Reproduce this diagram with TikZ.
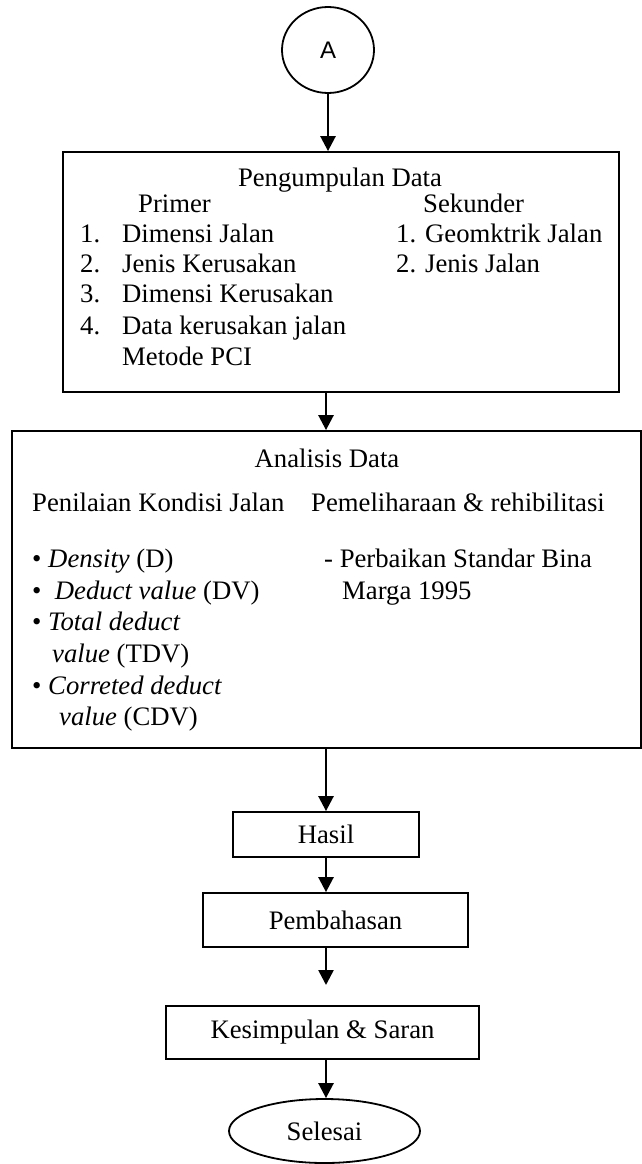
\documentclass[tikz,border=0pt]{standalone}
\usepackage{fontspec}
\setmainfont{Liberation Serif}
\newfontfamily\arialfont{Liberation Sans}
\usetikzlibrary{arrows.meta,shapes.geometric}

\begin{document}
\begin{tikzpicture}[x=1pt,y=-1pt,
	font=\fontsize{26.7}{31}\selectfont,
	box/.style={draw,line width=1.8pt,inner sep=0pt},
	oval/.style={draw,ellipse,line width=1.8pt,inner sep=0pt},
	txt/.style={anchor=mid west,inner sep=0pt},
	arr/.style={line width=2.6pt,-{Triangle[width=15pt,length=15pt]}}]
	\useasboundingbox (0,0) rectangle (642,1164);
	
	\node[oval,minimum width=92pt,minimum height=86pt,font=\arialfont\fontsize{24}{28}\selectfont] (A) at (328,50) {A};
	
	% pengumpulan data
	\node[box,minimum width=556pt,minimum height=240pt] (kumpul) at (341,272) {};
	\node[inner sep=0pt] (kumpultitle) at (340,180) {Pengumpulan Data};
	\node[txt] (primer) at (138,210) {Primer};
	\node[txt] (p1) at (80,240) {1.};
	\node[txt] (p1t) at (122,240) {Dimensi Jalan};
	\node[txt] (p2) at (80,270) {2.};
	\node[txt] (p2t) at (122,270) {Jenis Kerusakan};
	\node[txt] (p3) at (80,300) {3.};
	\node[txt] (p3t) at (122,300) {Dimensi Kerusakan};
	\node[txt] (p4) at (80,332) {4.};
	\node[txt] (p4t) at (122,332) {Data kerusakan jalan};
	\node[txt] (p4u) at (122,363) {Metode PCI};
	\node[txt] (sekunder) at (423,210) {Sekunder};
	\node[txt] (s1) at (396,240) {1. Geomktrik Jalan};
	\node[txt] (s2) at (396,270) {2. Jenis Jalan};
	
	% analisis data
	\node[box,minimum width=629pt,minimum height=317pt] (analisis) at (326.5,589.5) {};
	\node[inner sep=0pt] (analisistitle) at (327,458) {Analisis Data};
	\node[txt] (nilai) at (32,509) {Penilaian Kondisi Jalan};
	\node[txt] (pelihara) at (311,509) {Pemeliharaan \& rehibilitasi};
	\node[txt] (n1) at (32,565) {\textbullet\ \textit{Density} (D)};
	\node[txt] (n2) at (32,597) {\textbullet\ \ \textit{Deduct value} (DV)};
	\node[txt] (n3) at (32,628) {\textbullet\ \textit{Total deduct}};
	\node[txt] (n3b) at (52,660) {\textit{value} (TDV)};
	\node[txt] (n4) at (32,692) {\textbullet\ \textit{Correted deduct}};
	\node[txt] (n4b) at (59,723) {\textit{value} (CDV)};
	\node[txt] (r1) at (324,565) {- Perbaikan Standar Bina};
	\node[txt] (r1b) at (342,597) {Marga 1995};
	
	\node[box,minimum width=186pt,minimum height=45pt] (hasil) at (326,834.5) {Hasil};
	\node[box,minimum width=265pt,minimum height=54pt] (bahas) at (335.5,920) {Pembahasan};
	\node[box,minimum width=313pt,minimum height=53pt] (simpul) at (322.5,1032.5) {Kesimpulan \& Saran};
	\node[oval,minimum width=191pt,minimum height=64pt] (selesai) at (324.5,1131) {Selesai};
	\coordinate (tip) at (326,985);
	
	\draw[arr] (A.south) -- (A.south |- kumpul.north);
	\draw[arr] (kumpul.south -| tip) -- (analisis.north -| tip);
	\draw[arr] (analisis.south -| tip) -- (hasil.north -| tip);
	\draw[arr] (hasil.south -| tip) -- (bahas.north -| tip);
	\draw[arr] (bahas.south -| tip) -- (tip);
	\draw[arr] (simpul.south -| tip) -- (selesai.north -| tip);
\end{tikzpicture}
\end{document}
